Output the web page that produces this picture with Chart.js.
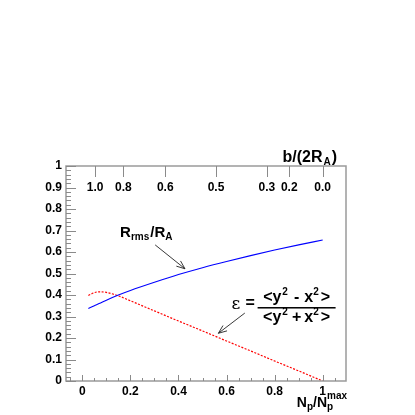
<!DOCTYPE html>
<html>
<head>
<meta charset="utf-8">
<script src="https://cdn.jsdelivr.net/npm/chart.js@4.4.1/dist/chart.umd.min.js"></script>
<style>
  body { margin: 0; background: #fff; }
  canvas { display: block; }
</style>
</head>
<body>
<canvas id="fig" width="415" height="415"></canvas>
<script>
// N_p / N_p^max
var np = [0.025, 0.05, 0.07, 0.1, 0.15, 0.2, 0.3, 0.4, 0.5, 0.6, 0.7, 0.8, 0.9, 1.0];
// R_rms / R_A
var rRms = [0.337, 0.350, 0.360, 0.376, 0.400, 0.421, 0.459, 0.495, 0.527, 0.556, 0.583, 0.609, 0.633, 0.656];
// eccentricity
var ecc = [0.398, 0.411, 0.415, 0.412, 0.396, 0.373, 0.326, 0.279, 0.233, 0.186, 0.140, 0.093, 0.047, 0.0];

var xTicks = [0, 0.2, 0.4, 0.6, 0.8, 1];
var xTickLabels = ['0', '0.2', '0.4', '0.6', '0.8', '1'];
var yTicks = [0, 0.1, 0.2, 0.3, 0.4, 0.5, 0.6, 0.7, 0.8, 0.9, 1];
var yTickLabels = ['0', '0.1', '0.2', '0.3', '0.4', '0.5', '0.6', '0.7', '0.8', '0.9', '1'];
// top axis: b/(2R_A) values placed at N_p/N_p^max positions
var topTickPos = [0.053, 0.171, 0.345, 0.556, 0.768, 0.861, 1.0];
var topTickLabels = ['1.0', '0.8', '0.6', '0.5', '0.3', '0.2', '0.0'];

var FONT = '"Liberation Sans", Arial, sans-serif';

function toXY(xs, ys) {
    return xs.map(function (x, i) { return { x: x, y: ys[i] }; });
}

// draws text pieces with sub/superscripts
function drawRich(ctx, parts, x, y, align) {
    var widths = parts.map(function (p) {
        ctx.font = 'bold ' + p.s + 'px ' + FONT;
        return ctx.measureText(p.t).width + (p.gap || 0);
    });
    var prevStart = 0, cur = 0;
    parts.forEach(function (p, i) {
        var start = p.back ? prevStart : cur;
        cur = Math.max(cur, start + widths[i]);
        prevStart = start;
    });
    var total = cur;
    var x0 = align === 'right' ? x - total : (align === 'center' ? x - total / 2 : x);
    cur = 0; prevStart = 0;
    ctx.textAlign = 'left';
    ctx.textBaseline = 'alphabetic';
    parts.forEach(function (p, i) {
        var start = p.back ? prevStart : cur;
        ctx.font = 'bold ' + p.s + 'px ' + FONT;
        ctx.fillText(p.t, x0 + start + (p.pre || 0), y + (p.dy || 0));
        prevStart = start;
        cur = Math.max(cur, start + widths[i]);
    });
}

function arrow(ctx, x1, y1, x2, y2) {
    var a = Math.atan2(y2 - y1, x2 - x1), L = 9, h = 0.38;
    ctx.beginPath();
    ctx.moveTo(x1, y1); ctx.lineTo(x2, y2);
    ctx.moveTo(x2 - L * Math.cos(a - h), y2 - L * Math.sin(a - h));
    ctx.lineTo(x2, y2);
    ctx.lineTo(x2 - L * Math.cos(a + h), y2 - L * Math.sin(a + h));
    ctx.stroke();
}

var framePlugin = {
    id: 'frame',
    afterDraw: function (chart) {
        var ctx = chart.ctx, a = chart.chartArea;
        var xs = chart.scales.x, ys = chart.scales.y;
        ctx.save();
        // frame
        ctx.strokeStyle = '#9a9a9a';
        ctx.lineWidth = 1.5;
        ctx.strokeRect(a.left, a.top, a.right - a.left, a.bottom - a.top);

        ctx.strokeStyle = '#8a8a8a';
        ctx.lineWidth = 1;
        ctx.beginPath();
        // y ticks every 0.02, major every 0.1
        for (var k = 0; k <= 50; k++) {
            var py = Math.round(ys.getPixelForValue(k / 50)) + 0.5;
            var len = (k % 5 === 0) ? 10 : 5;
            ctx.moveTo(a.left, py); ctx.lineTo(a.left + len, py);
        }
        // x ticks every 0.05, major every 0.2
        for (var j = -1; j <= 21; j++) {
            var v = j * 0.05;
            if (v < xs.min || v > xs.max) continue;
            var px = Math.round(xs.getPixelForValue(v)) + 0.5;
            var l2 = (j % 4 === 0) ? 6 : 3;
            ctx.moveTo(px, a.bottom); ctx.lineTo(px, a.bottom - l2);
        }
        // top axis ticks
        topTickPos.forEach(function (t) {
            var px = Math.round(xs.getPixelForValue(t)) + 0.5;
            ctx.moveTo(px, a.top); ctx.lineTo(px, a.top + 11);
        });
        ctx.stroke();

        // top axis labels
        ctx.fillStyle = '#000';
        ctx.font = 'bold 12px ' + FONT;
        ctx.textAlign = 'center';
        ctx.textBaseline = 'middle';
        topTickPos.forEach(function (t, i) {
            ctx.fillText(topTickLabels[i], xs.getPixelForValue(t), a.top + 22);
        });

        // axis titles
        drawRich(ctx, [
            { t: 'b/(2R', s: 16, gap: 1 },
            { t: 'A', s: 10, dy: 3, gap: 1 },
            { t: ')', s: 16 }
        ], a.right - 9, a.top - 4, 'right');
        drawRich(ctx, [
            { t: 'N', s: 14 },
            { t: 'p', s: 10, dy: 3 },
            { t: '/N', s: 14 },
            { t: 'p', s: 10, dy: 3 },
            { t: 'max', s: 10, dy: -8, back: true }
        ], a.right + 1, a.bottom + 26, 'right');

        // R_rms/R_A annotation
        var rx = xs.getPixelForValue(0.157), ry = ys.getPixelForValue(0.668);
        drawRich(ctx, [
            { t: 'R', s: 15 },
            { t: 'rms', s: 10, dy: 3, gap: 1 },
            { t: '/R', s: 15 },
            { t: 'A', s: 10, dy: 3 }
        ], rx, ry, 'left');
        ctx.strokeStyle = '#222';
        ctx.lineWidth = 0.9;
        arrow(ctx, xs.getPixelForValue(0.303), ys.getPixelForValue(0.633),
            xs.getPixelForValue(0.427), ys.getPixelForValue(0.522));

        // epsilon annotation
        var ex = xs.getPixelForValue(0.621), ey = ys.getPixelForValue(0.358);
        ctx.font = '17px "DejaVu Serif", serif';
        ctx.textAlign = 'left';
        ctx.textBaseline = 'middle';
        ctx.fillText('\u03b5', ex, ey + 1);
        ctx.font = 'bold 16px ' + FONT;
        ctx.fillText('=', ex + 14, ey);
        ctx.fillRect(ex + 26, ey + 3, 78, 1.5);
        drawRich(ctx, [
            { t: '<y', s: 16, gap: 1 },
            { t: '2', s: 10, dy: -7, gap: 3 },
            { t: '-', s: 16, gap: 8, pre: 3 },
            { t: 'x', s: 16 },
            { t: '2', s: 10, dy: -7, gap: 2 },
            { t: '>', s: 16 }
        ], ex + 65, ey - 2, 'center');
        drawRich(ctx, [
            { t: '<y', s: 16, gap: 1 },
            { t: '2', s: 10, dy: -7, gap: 3 },
            { t: '+', s: 16, gap: 4, pre: 1 },
            { t: 'x', s: 16 },
            { t: '2', s: 10, dy: -7, gap: 2 },
            { t: '>', s: 16 }
        ], ex + 65, ey + 18, 'center');
        arrow(ctx, xs.getPixelForValue(0.676), ys.getPixelForValue(0.316),
            xs.getPixelForValue(0.566), ys.getPixelForValue(0.222));
        ctx.restore();
    }
};

var ctx = document.getElementById('fig').getContext('2d');
var myChart = new Chart(ctx, {
    type: 'line',
    data: {
        datasets: [{
            label: 'R_rms/R_A',
            data: toXY(np, rRms),
            borderColor: '#0000ff',
            borderWidth: 1.1,
            pointRadius: 0,
            cubicInterpolationMode: 'monotone',
            fill: false
        }, {
            label: 'epsilon',
            data: toXY(np, ecc),
            borderColor: '#ff0000',
            borderWidth: 1.2,
            borderDash: [2, 1.5],
            pointRadius: 0,
            cubicInterpolationMode: 'monotone',
            fill: false
        }]
    },
    options: {
        responsive: false,
        animation: false,
        devicePixelRatio: 1,
        layout: { padding: { left: 0, right: 69, top: 166, bottom: 0 } },
        plugins: { legend: { display: false }, tooltip: { enabled: false } },
        scales: {
            x: {
                type: 'linear',
                min: -0.068,
                max: 1.097,
                grid: { display: false, drawTicks: false },
                border: { display: false },
                afterBuildTicks: function (s) { s.ticks = xTicks.map(function (v) { return { value: v }; }); },
                afterFit: function (s) { s.height = 34; },
                ticks: {
                    padding: 3,
                    maxRotation: 0,
                    autoSkip: false,
                    color: '#000',
                    font: { family: FONT, size: 12, weight: 'bold' },
                    callback: function (v, i) { return xTickLabels[i]; }
                }
            },
            y: {
                type: 'linear',
                min: 0,
                max: 1,
                grid: { display: false, drawTicks: false },
                border: { display: false },
                afterBuildTicks: function (s) { s.ticks = yTicks.map(function (v) { return { value: v }; }); },
                afterFit: function (s) { s.width = 66; },
                ticks: {
                    padding: 4,
                    autoSkip: false,
                    color: '#000',
                    font: { family: FONT, size: 12, weight: 'bold' },
                    callback: function (v, i) { return yTickLabels[i]; }
                }
            }
        }
    },
    plugins: [framePlugin]
});
</script>
</body>
</html>
